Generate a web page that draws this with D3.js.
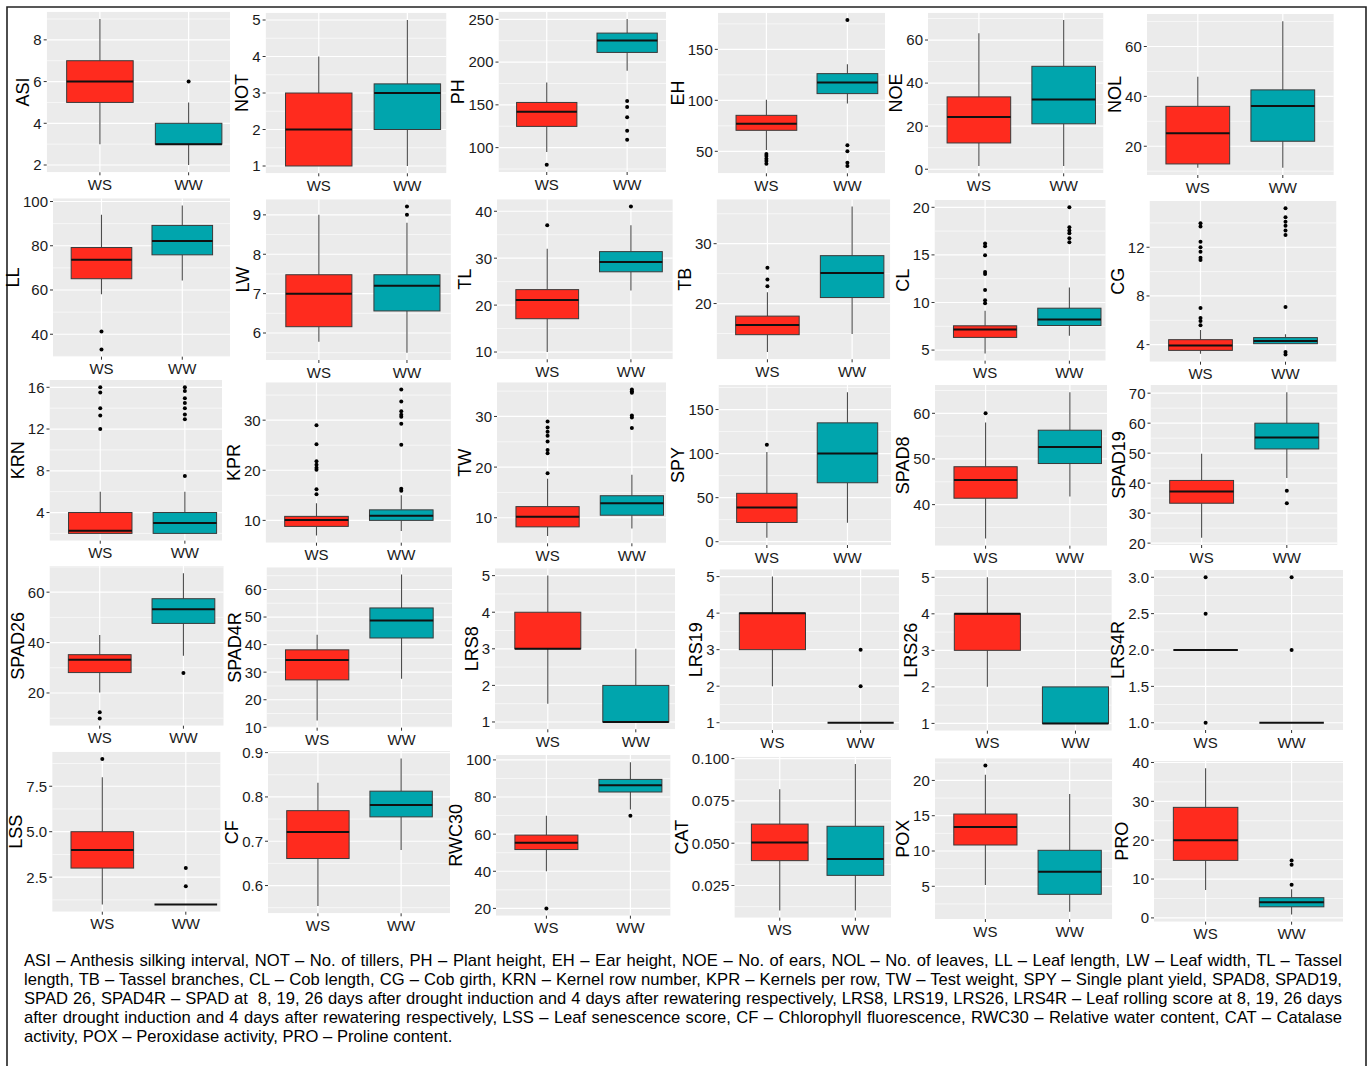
<!DOCTYPE html>
<html>
<head>
<meta charset="utf-8">
<script src="https://cdn.jsdelivr.net/npm/d3@7"></script>
<style>
  body { margin: 0; background: #fff; }
  #wrap { position: relative; width: 1370px; height: 1066px; overflow: hidden; }
  svg { position: absolute; left: 0; top: 0; }
  text { font-family: "Liberation Sans", Arial, sans-serif; }
  #caption {
    position: absolute; left: 24px; top: 951px; width: 1318px;
    font-family: "Liberation Sans", Arial, sans-serif; font-size: 16.6px; line-height: 19px; color: #000;
  }
  #caption div { text-align: justify; text-align-last: justify; white-space: pre-wrap; }
  #caption div.last { text-align-last: left; }
</style>
</head>
<body>
<div id="wrap">
<svg id="chart" width="1370" height="1066"></svg>
<div id="caption"></div>
</div>
<script>
// traits, in the order of the panels (row by row)
var traits = ["ASI","NOT","PH","EH","NOE","NOL",
              "LL","LW","TL","TB","CL","CG",
              "KRN","KPR","TW","SPY","SPAD8","SPAD19",
              "SPAD26","SPAD4R","LRS8","LRS19","LRS26","LRS4R",
              "LSS","CF","RWC30","CAT","POX","PRO"];
var groups = ["WS","WW"];

// [lower whisker, q1, median, q3, upper whisker]
var wsStats = [[3,5,6,7,9],[1,1,2,3,4],[95,124.8,141.8,152.8,176],[51.3,70.6,77.1,85.3,100.7],[1.5,12.2,24.2,33.6,63.1],[11.4,12.9,25.2,36,47.9],
  [58.1,65.1,73.7,79.2,94],[5.78,6.16,7.0,7.48,9.0],[10,17.1,21.1,23.3,32],[11.9,14.8,16.4,17.9,21.9],[4.65,6.33,7.17,7.55,9.12],[3.26,3.53,3.94,4.41,5.2],
  [2,2,2.25,4,6],[7,8.8,10.07,10.8,13.4],[6.4,8.2,10.2,12.2,17.7],[4.5,21.8,38.7,54.9,101.9],[32.6,41.4,45.4,48.3,58],[21.8,33.3,37.2,40.9,49.8],
  [20.2,28.1,33.2,35.2,43],[12.5,27.2,34.4,38.1,43.6],[1.5,3,3,4,5],[2,3,4,4,5],[2,3,4,4,5],[2,2,2,2,2],
  [1,3,4,5,8],[0.554,0.661,0.721,0.769,0.832],[40,51.7,55.3,59.5,69.9],[0.0103,0.0397,0.0504,0.0613,0.0819],[5.19,10.85,13.4,15.24,20.8],[7.2,14.8,20,28.45,38.5]];

var wwStats = [[2,3,3,4,5],[1,2,3,3.25,5],[189.8,211.3,225.3,233.9,250.4],[96.8,106.6,117.4,126.2,135.3],[1.5,21.1,32.4,47.8,69.3],[11.4,22,36.1,42.6,70.1],
  [64.3,75.9,82.2,89.2,98.2],[5.5,6.56,7.2,7.48,8.8],[23.1,27.1,29.2,31.4,37],[14.9,21,25.1,28,36.2],[6.5,7.58,8.2,9.4,11.58],[4.05,4.08,4.3,4.58,4.85],
  [2,2,3,4,6],[7.9,10,10.9,12.1,15],[7.9,10.5,12.85,14.35,18.5],[21.4,66.9,100,134.9,169.6],[41.8,49,52.6,56.3,64.6],[41.7,51.4,55.2,60,70.3],
  [34.8,47.6,53.2,57.4,67.5],[27.6,42.4,48.7,53.3,65.4],[1,1,1,2,3],[1,1,1,1,1],[1,1,1,2,2],[1,1,1,1,1],
  [1,1,1,1,1],[0.68,0.755,0.782,0.813,0.887],[73.3,82.7,86.3,89.5,98.7],[0.0103,0.031,0.0406,0.060,0.0968],[1.4,3.86,7.07,10.1,18.06],[0.9,2.85,4,5.2,7.4]];

var wsOutliers = [[],[],[80],[47.4,45.4,42.8,40.5,37.9],[],[],
  [41.2,33.1],[],[37],[22.9,24,26],[9.93,10.24,11.3,13,13.2,14.97,15.9,16.2],[5.59,5.95,6.19,7.02,10.95,11.14,11.64,12.0,12.46,13.7,13.98],
  [16,15.5,14,13.3,12],[29,25.2,21.8,21.1,20.5,20.1,16.2,15.2],[18.8,22.75,23.4,25.05,26.2,27,27.8,29],[109.9],[60],[],
  [12.4,9.9],[],[],[],[],[1,2.5,3],
  [9],[],[20],[],[22.1],[]];

var wwOutliers = [[6],[],[154.5,147.4,135.4,119.8,109.3],[178.8,55.9,50,38.9,35.6],[],[],
  [],[9.21,9.0],[41],[],[20,17.9,17.55,17.27,16.75,16.33],[7.1,13.01,13.37,13.76,14.1,14.47,15.2,3.39,3.2],
  [16,15.65,14.95,14.5,14,13.4,12.95,7.5],[36.1,33.7,31.8,31.1,30.7,29.3,25.1,16.3,15.9],[27.7,30.2,29.8,35.3,35,34.7],[],[],[37.5,33.3],
  [27.9],[],[],[2,3],[],[2,3],
  [2,3],[],[69.9],[],[],[8.5,13.7,14.8]];

var yTickLabels = [["2","4","6","8"],["1","2","3","4","5"],["100","150","200","250"],["50","100","150"],["0","20","40","60"],["20","40","60"],
  ["40","60","80","100"],["6","7","8","9"],["10","20","30","40"],["20","30"],["5","10","15","20"],["4","8","12"],
  ["4","8","12","16"],["10","20","30"],["10","20","30"],["0","50","100","150"],["40","50","60"],["20","30","40","50","60","70"],
  ["20","40","60"],["10","20","30","40","50","60"],["1","2","3","4","5"],["1","2","3","4","5"],["1","2","3","4","5"],["1.0","1.5","2.0","2.5","3.0"],
  ["2.5","5.0","7.5"],["0.6","0.7","0.8","0.9"],["20","40","60","80","100"],["0.025","0.050","0.075","0.100"],["5","10","15","20"],["0","10","20","30","40"]];

var captionLines = [
  "ASI \u2013 Anthesis silking interval, NOT \u2013 No. of tillers, PH \u2013 Plant height, EH \u2013 Ear height, NOE \u2013 No. of ears, NOL \u2013 No. of leaves, LL \u2013 Leaf length, LW \u2013 Leaf width, TL \u2013 Tassel",
  "length, TB \u2013 Tassel branches, CL \u2013 Cob length, CG \u2013 Cob girth, KRN \u2013 Kernel row number, KPR \u2013 Kernels per row, TW \u2013 Test weight, SPY \u2013 Single plant yield, SPAD8, SPAD19,",
  "SPAD 26, SPAD4R \u2013 SPAD at  8, 19, 26 days after drought induction and 4 days after rewatering respectively, LRS8, LRS19, LRS26, LRS4R \u2013 Leaf rolling score at 8, 19, 26 days",
  "after drought induction and 4 days after rewatering respectively, LSS \u2013 Leaf senescence score, CF \u2013 Chlorophyll fluorescence, RWC30 \u2013 Relative water content, CAT \u2013 Catalase",
  "activity, POX \u2013 Peroxidase activity, PRO \u2013 Proline content."
];

// panel layout: [bg left, bg top, bg bottom, category step, visible right edge]
var layout = [[46.7,11.7,172.3,88.7,230],[265.6,12.7,173.3,88.6,446.5],[498.5,11.7,172,80.4,666.2],[717.8,12.7,173.3,81,885],[928,12.7,173.3,84.8,1103.5],[1146.8,14,175,85,1334],
  [53,198.3,356.7,80.8,230.2],[266,199.3,360,88.1,450.9],[497,199.3,359.3,83.7,672.8],[716.6,199.3,359.3,84.7,890.3],[934.5,200,360.7,84.3,1105.7],[1149.5,201,361.7,85,1336.5],
  [49.5,380,540.7,84.6,222],[265.6,382.3,542.7,84.8,450.9],[497,382.3,543.3,84.3,666.2],[718.5,385,545,80.6,891.2],[935,385,545.7,84.3,1107],[1150.5,385,545,85.2,1337.5],
  [49.5,566,725.7,83.7,223.7],[266.5,567.3,727.7,84.4,452.2],[495,568.3,729.3,88,675],[719.5,569.3,730,88.2,899],[934.5,570,730.7,88.1,1111.8],[1154,570,730,86,1343],
  [52.2,751.7,911.7,83.5,220.6],[268,751,913.3,83.2,450],[496,755,915.7,84,670.6],[734.4,756.7,917.7,75.6,891.2],[934.8,758.3,919,84.3,1112.3],[1154,761,921.7,86,1343]];

var colors = {WS: "#FF2B1E", WW: "#00A5AD"};

var svg = d3.select("#chart");

// outer frame
svg.append("path")
  .attr("d", "M7,1070V7H1366V1070")
  .attr("fill", "none").attr("stroke", "#222").attr("stroke-width", 1.6);

traits.forEach(function(name, i) {
  var L = layout[i];
  var left = L[0], top = L[1], bottom = L[2], step = L[3];
  var fullRight = left + 2.2 * step;
  var visRight = Math.min(L[4], fullRight);

  var stats = {WS: wsStats[i], WW: wwStats[i]};
  var outs = {WS: wsOutliers[i], WW: wwOutliers[i]};
  var all = wsStats[i].concat(wwStats[i], wsOutliers[i], wwOutliers[i]);
  var lo = d3.min(all), hi = d3.max(all), pad = (hi - lo) * 0.05;

  var y = d3.scaleLinear().domain([lo - pad, hi + pad]).range([bottom, top]);
  var x = d3.scalePoint().domain(groups).range([left, fullRight]).padding(0.6);
  var boxW = step * 0.75;

  var majors = yTickLabels[i].map(Number);
  var d = majors[1] - majors[0];
  var minors = [];
  for (var k = -1; k < majors.length; k++) {
    var m = (k < 0 ? majors[0] - d : majors[k]) + d / 2;
    if (m >= y.domain()[0] && m <= y.domain()[1]) minors.push(m);
  }

  var g = svg.append("g").attr("class", "panel");
  var clipId = "clip" + i;
  g.append("clipPath").attr("id", clipId)
    .append("rect").attr("x", left).attr("y", top).attr("width", visRight - left).attr("height", bottom - top);

  var plot = g.append("g").attr("clip-path", "url(#" + clipId + ")");
  plot.append("rect")
    .attr("x", left).attr("y", top).attr("width", visRight - left).attr("height", bottom - top)
    .attr("fill", "#EBEBEB");

  plot.selectAll("line.minor").data(minors).enter().append("line")
    .attr("x1", left).attr("x2", visRight)
    .attr("y1", function(v) { return y(v); }).attr("y2", function(v) { return y(v); })
    .attr("stroke", "#fff").attr("stroke-width", 0.6);
  plot.selectAll("line.major").data(majors).enter().append("line")
    .attr("x1", left).attr("x2", visRight)
    .attr("y1", function(v) { return y(v); }).attr("y2", function(v) { return y(v); })
    .attr("stroke", "#fff").attr("stroke-width", 1.2);
  plot.selectAll("line.vgrid").data(groups).enter().append("line")
    .attr("x1", function(c) { return x(c); }).attr("x2", function(c) { return x(c); })
    .attr("y1", top).attr("y2", bottom)
    .attr("stroke", "#fff").attr("stroke-width", 1.2);

  groups.forEach(function(c) {
    var s = stats[c], cx = x(c);
    // whiskers
    plot.append("line").attr("x1", cx).attr("x2", cx).attr("y1", y(s[0])).attr("y2", y(s[1]))
      .attr("stroke", "#4d4d4d").attr("stroke-width", 1.1);
    plot.append("line").attr("x1", cx).attr("x2", cx).attr("y1", y(s[3])).attr("y2", y(s[4]))
      .attr("stroke", "#4d4d4d").attr("stroke-width", 1.1);
    // box
    plot.append("rect")
      .attr("x", cx - boxW / 2).attr("width", boxW)
      .attr("y", y(s[3])).attr("height", Math.max(0, y(s[1]) - y(s[3])))
      .attr("fill", colors[c]).attr("stroke", "#3a3a3a").attr("stroke-width", 1);
    // median
    plot.append("line").attr("x1", cx - boxW / 2).attr("x2", cx + boxW / 2)
      .attr("y1", y(s[2])).attr("y2", y(s[2]))
      .attr("stroke", "#111").attr("stroke-width", 2);
    // outliers
    plot.selectAll("circle." + c).data(outs[c]).enter().append("circle")
      .attr("cx", cx).attr("cy", function(v) { return y(v); }).attr("r", 2)
      .attr("fill", "#000");
  });

  // y axis ticks and labels
  g.selectAll("line.ytick").data(majors).enter().append("line")
    .attr("x1", left - 3).attr("x2", left)
    .attr("y1", function(v) { return y(v); }).attr("y2", function(v) { return y(v); })
    .attr("stroke", "#333").attr("stroke-width", 1);
  var labels = g.selectAll("text.ylab").data(yTickLabels[i]).enter().append("text")
    .attr("x", left - 5).attr("y", function(t) { return y(+t); }).attr("dy", "0.36em")
    .attr("text-anchor", "end").attr("font-size", 15).attr("fill", "#1a1a1a")
    .text(function(t) { return t; });
  var maxW = 0;
  labels.each(function() { maxW = Math.max(maxW, this.getComputedTextLength()); });

  // x axis ticks and labels
  g.selectAll("line.xtick").data(groups).enter().append("line")
    .attr("x1", function(c) { return x(c); }).attr("x2", function(c) { return x(c); })
    .attr("y1", bottom).attr("y2", bottom + 3)
    .attr("stroke", "#333").attr("stroke-width", 1);
  g.selectAll("text.xlab").data(groups).enter().append("text")
    .attr("x", function(c) { return x(c); }).attr("y", bottom + 17.5)
    .attr("text-anchor", "middle").attr("font-size", 15).attr("fill", "#1a1a1a")
    .text(function(c) { return c; });

  // y title
  var tx = left - 5 - maxW - 4;
  g.append("text")
    .attr("transform", "translate(" + tx + "," + ((top + bottom) / 2) + ") rotate(-90)")
    .attr("text-anchor", "middle").attr("font-size", 18).attr("fill", "#000")
    .text(name);
});

// caption under the panels
d3.select("#caption").selectAll("div").data(captionLines).enter().append("div")
  .attr("class", function(t, i) { return i == captionLines.length - 1 ? "last" : null; })
  .text(function(t) { return t; });
</script>
</body>
</html>
